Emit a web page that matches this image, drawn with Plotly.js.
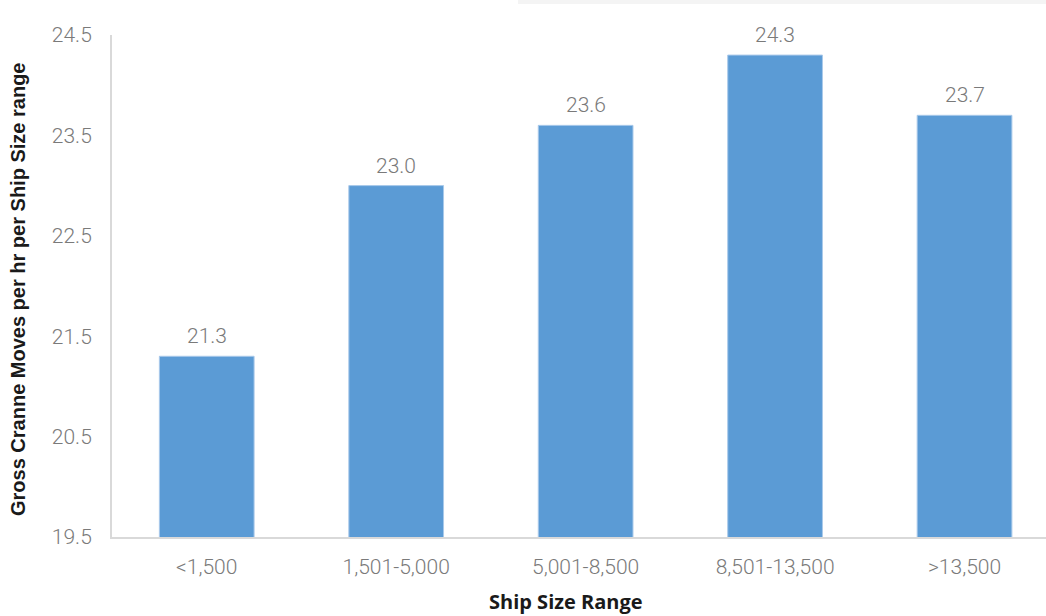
<!DOCTYPE html>
<html>
<head>
<meta charset="utf-8">
<script src="https://cdn.plot.ly/plotly-3.0.1.min.js"></script>
<style>
  html, body { margin: 0; padding: 0; background: #ffffff; }
  #chart { width: 1046px; height: 616px; }
</style>
</head>
<body>
<div id="chart"></div>
<script>
// Gross crane moves per hour, grouped by ship size range (TEU)
const shipSizeRanges = ['<1,500', '1,501-5,000', '5,001-8,500', '8,501-13,500', '>13,500'];
const grossMovesPerHour = [21.3, 23.0, 23.6, 24.3, 23.7];
const yTickValues = [19.5, 20.5, 21.5, 22.5, 23.5, 24.5];

const labelFont = { family: 'Roboto, "Open Sans", sans-serif', size: 21, color: '#7a7a7a', weight: 300 };
const xTitleFont = { family: '"Open Sans", Roboto, sans-serif', size: 20, color: '#1a1a1a', weight: 700 };
const yTitleFont = { family: '"Liberation Sans", Arial, sans-serif', size: 20, color: '#1a1a1a', weight: 700 };

const trace = {
  type: 'bar',
  x: shipSizeRanges,
  y: grossMovesPerHour,
  marker: { color: '#5b9bd5', line: { color: '#a9c9ea', width: 1 } },
  hoverinfo: 'x+y'
};

// value labels sit just above each bar
const valueLabels = shipSizeRanges.map((cat, i) => ({
  text: grossMovesPerHour[i].toFixed(1),
  x: cat,
  y: grossMovesPerHour[i],
  xref: 'x', yref: 'y',
  xanchor: 'center', yanchor: 'bottom',
  yshift: 6,
  showarrow: false,
  font: labelFont
}));

const layout = {
  width: 1046,
  height: 616,
  margin: { l: 112, r: 0, t: 35, b: 79 },
  paper_bgcolor: '#ffffff',
  plot_bgcolor: '#ffffff',
  bargap: 0.5,
  showlegend: false,
  xaxis: {
    type: 'category',
    range: [-0.5, 4.43],
    showgrid: false,
    showline: true,
    linecolor: '#d9d9d9',
    linewidth: 2,
    ticks: '',
    ticklabelstandoff: 10,
    tickfont: labelFont,
    fixedrange: true
  },
  yaxis: {
    range: [19.5, 24.5],
    tickvals: yTickValues,
    ticktext: yTickValues.map(v => v.toFixed(1)),
    showgrid: false,
    zeroline: false,
    showline: true,
    linecolor: '#d9d9d9',
    linewidth: 2,
    ticks: '',
    ticklabelstandoff: 14,
    tickfont: labelFont,
    fixedrange: true
  },
  annotations: valueLabels.concat([
    {
      text: 'Ship Size Range',
      xref: 'paper', yref: 'paper',
      x: (566 - 112) / 934, y: -64 / 502,
      xanchor: 'center', yanchor: 'middle',
      showarrow: false,
      font: xTitleFont
    },
    {
      text: 'Gross Cranne Moves per hr per Ship Size range',
      xref: 'paper', yref: 'paper',
      x: (18 - 112) / 934, y: (537 - 290) / 502,
      xanchor: 'center', yanchor: 'middle',
      textangle: -90,
      showarrow: false,
      font: yTitleFont
    }
  ]),
  shapes: [
    {
      type: 'rect',
      xref: 'paper', yref: 'paper',
      x0: (518 - 112) / 934, x1: 1.0,
      y0: (537 - 4) / 502, y1: 1.08,
      fillcolor: '#f4f4f4',
      line: { width: 0 },
      layer: 'below'
    }
  ]
};

Plotly.newPlot('chart', [trace], layout, { displayModeBar: false, staticPlot: true });
</script>
</body>
</html>
